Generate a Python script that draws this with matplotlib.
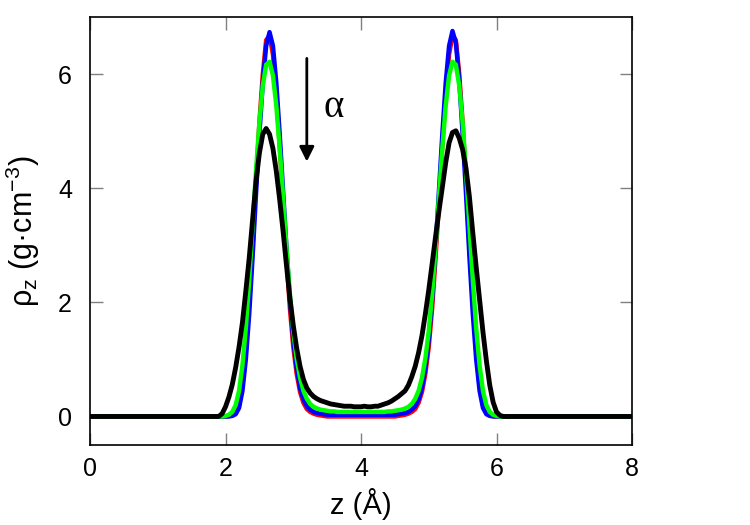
import numpy as np
import matplotlib
matplotlib.use("Agg")
import matplotlib.pyplot as plt

plt.rcParams["font.family"] = ["Liberation Sans", "DejaVu Sans"]
plt.rcParams["mathtext.fontset"] = "custom"
plt.rcParams["mathtext.rm"] = "Liberation Sans"
plt.rcParams["mathtext.it"] = "Liberation Sans:italic"

# sample positions (Angstrom): 0, 1.80..6.20 step 0.05, 8
z = np.concatenate([[0.0], np.round(np.arange(1.80, 6.2001, 0.05), 2), [8.0]])

rho_red = [0.0,
    0, 0, 0, 0, 0, 0.01, 0.02, 0.06, 0.20, 0.55,
    1.15, 2.00, 3.00, 4.10, 5.15, 6.00, 6.60, 6.68, 6.35, 5.65,
    4.75, 3.75, 2.78, 1.90, 1.22, 0.75, 0.43, 0.24, 0.13, 0.08,
    0.05, 0.03, 0.02, 0.01, 0, 0, 0, 0, 0, 0,
    0, 0, 0, 0, 0, 0, 0, 0, 0, 0,
    0, 0, 0, 0, 0, 0.01, 0.02, 0.03, 0.05, 0.08,
    0.13, 0.24, 0.43, 0.75, 1.22, 1.90, 2.78, 3.75, 4.75, 5.65,
    6.35, 6.68, 6.60, 6.00, 5.15, 4.10, 3.00, 2.00, 1.15, 0.55,
    0.20, 0.06, 0.02, 0.01, 0, 0, 0, 0, 0,
    0.0]

rho_blue = [0.0,
    0, 0, 0, 0, 0, 0, 0.01, 0.04, 0.15, 0.45,
    1.00, 1.80, 2.80, 3.90, 4.95, 5.85, 6.50, 6.74, 6.50, 5.85,
    4.95, 3.95, 2.95, 2.05, 1.35, 0.85, 0.50, 0.30, 0.18, 0.12,
    0.08, 0.06, 0.05, 0.04, 0.03, 0.03, 0.03, 0.03, 0.03, 0.03,
    0.03, 0.03, 0.03, 0.03, 0.03, 0.03, 0.03, 0.03, 0.03, 0.03,
    0.03, 0.03, 0.03, 0.03, 0.03, 0.04, 0.05, 0.06, 0.08, 0.12,
    0.18, 0.30, 0.50, 0.85, 1.35, 2.05, 2.95, 3.95, 4.95, 5.85,
    6.50, 6.76, 6.55, 5.90, 4.95, 3.90, 2.80, 1.80, 1.00, 0.45,
    0.15, 0.04, 0.01, 0, 0, 0, 0, 0, 0,
    0.0]

rho_green = [0.0,
    0, 0, 0, 0, 0.01, 0.03, 0.08, 0.20, 0.45, 0.90,
    1.55, 2.40, 3.35, 4.30, 5.15, 5.80, 6.17, 6.22, 5.98, 5.45,
    4.70, 3.85, 2.95, 2.15, 1.50, 1.02, 0.68, 0.45, 0.31, 0.22,
    0.17, 0.14, 0.12, 0.11, 0.10, 0.09, 0.09, 0.08, 0.08, 0.08,
    0.08, 0.08, 0.08, 0.08, 0.08, 0.08, 0.08, 0.08, 0.08, 0.08,
    0.08, 0.08, 0.09, 0.09, 0.10, 0.11, 0.12, 0.14, 0.17, 0.22,
    0.31, 0.45, 0.68, 1.02, 1.50, 2.15, 2.95, 3.85, 4.70, 5.45,
    5.98, 6.22, 6.17, 5.80, 5.15, 4.30, 3.35, 2.40, 1.55, 0.90,
    0.45, 0.20, 0.08, 0.03, 0.01, 0, 0, 0, 0,
    0.0]

rho_black = [0.0,
    0, 0, 0, 0.05, 0.17, 0.34, 0.56, 0.86, 1.22, 1.65,
    2.20, 2.78, 3.45, 4.12, 4.62, 4.95, 5.05, 4.95, 4.70, 4.30,
    3.80, 3.25, 2.65, 2.08, 1.60, 1.20, 0.88, 0.65, 0.50, 0.41,
    0.35, 0.31, 0.28, 0.26, 0.24, 0.22, 0.21, 0.20, 0.19, 0.18,
    0.18, 0.18, 0.17, 0.17, 0.17, 0.18, 0.17, 0.17, 0.18, 0.18,
    0.20, 0.22, 0.24, 0.27, 0.31, 0.35, 0.40, 0.45, 0.55, 0.70,
    0.88, 1.12, 1.42, 1.80, 2.22, 2.68, 3.15, 3.60, 4.02, 4.45,
    4.80, 4.98, 5.01, 4.88, 4.68, 4.35, 3.85, 3.22, 2.62, 2.05,
    1.48, 0.98, 0.55, 0.25, 0.08, 0.02, 0, 0, 0,
    0.0]

series = [(rho_red, "#ff0000", 3.2), (rho_blue, "#0000ff", 3.2),
          (rho_green, "#00ff00", 3.2), (rho_black, "#000000", 3.5)]

xticks = [0, 2, 4, 6, 8]
yticks = [0, 2, 4, 6]

fig = plt.figure(figsize=(7.5, 5.25), dpi=100)
ax = fig.add_axes([0.12, 0.1524, 0.7227, 0.8146])

for vals, col, lw in series:
    assert len(vals) == len(z)
    ax.plot(z, vals, color=col, lw=lw, solid_joinstyle="round", solid_capstyle="round")

ax.set_xlim(0, 8)
ax.set_ylim(-0.5, 7.0)
ax.set_xticks(xticks)
ax.set_yticks(yticks)
ax.tick_params(direction="in", length=9, width=1, color="#808080",
               top=True, right=True, labelsize=18)
ax.tick_params(axis="x", pad=9)
ax.tick_params(axis="y", pad=13)
for s in ax.spines.values():
    s.set_linewidth(1.2)
    s.set_color("black")

ax.set_xlabel("z (Å)", fontsize=21, labelpad=5)
ax.set_ylabel(r"ρ$_{\mathrm{z}}$ (g·cm$^{\mathrm{-3}}$)", fontsize=22)
ax.yaxis.set_label_coords(-0.088, 0.5)

ax.annotate("", xy=(3.2, 4.47), xytext=(3.2, 6.28),
            arrowprops=dict(arrowstyle="-|>", lw=2, color="black",
                            mutation_scale=22, shrinkA=0, shrinkB=0))
ax.text(3.59, 5.41, "α", fontsize=28, family="Liberation Serif",
        ha="center", va="center")

fig.savefig("out.png", dpi=100)
